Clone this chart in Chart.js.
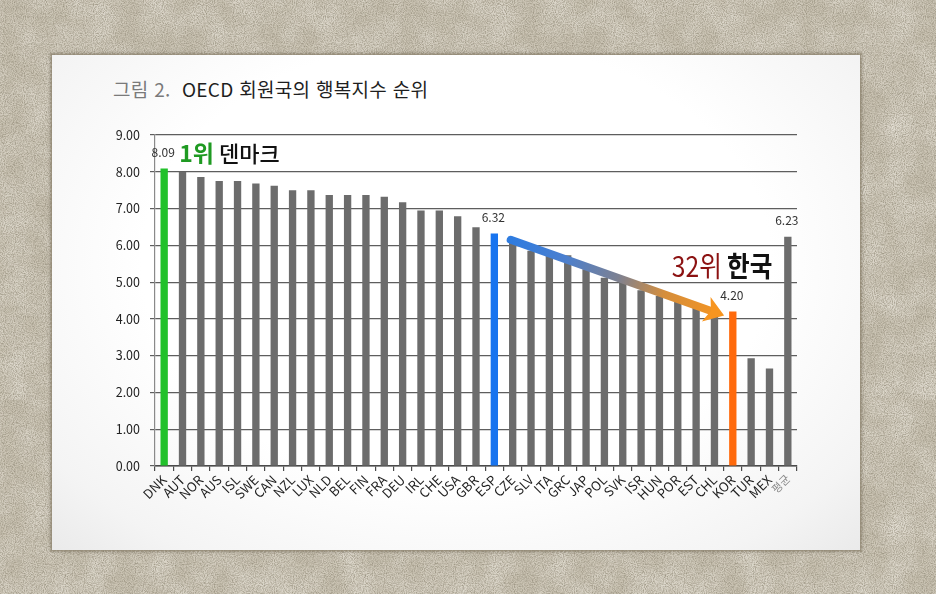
<!DOCTYPE html>
<html lang="ko">
<head>
<meta charset="utf-8">
<title>OECD 회원국의 행복지수 순위</title>
<script src="https://cdn.jsdelivr.net/npm/chart.js@4.4.1/dist/chart.umd.min.js"></script>
<style>
  html, body { margin: 0; padding: 0; width: 936px; height: 594px; overflow: hidden; }
  body {
    position: relative;
    background-color: #cbc4b4;
  }
  /* paper-like backdrop built from SVG noise */
  #paper {
    position: absolute; inset: 0;
    background-color: #cac3b3;
    background-image:
      url("data:image/svg+xml;utf8,<svg xmlns='http://www.w3.org/2000/svg' width='300' height='300'><filter id='n'><feTurbulence type='fractalNoise' baseFrequency='0.9' numOctaves='3' seed='4'/><feColorMatrix values='0 0 0 0 0.3  0 0 0 0 0.27  0 0 0 0 0.2  0 0 0 1.6 -0.55'/></filter><rect width='300' height='300' filter='url(%23n)'/></svg>"),
      url("data:image/svg+xml;utf8,<svg xmlns='http://www.w3.org/2000/svg' width='400' height='400'><filter id='m'><feTurbulence type='fractalNoise' baseFrequency='0.035' numOctaves='2' seed='9'/><feColorMatrix values='0 0 0 0 1  0 0 0 0 0.98  0 0 0 0 0.94  0 0 0 0.7 -0.2'/></filter><rect width='400' height='400' filter='url(%23m)'/></svg>");
  }
  #card {
    position: absolute; left: 52px; top: 55px; width: 808px; height: 495px;
    background: radial-gradient(ellipse at 50% 42%, #ffffff 55%, #f4f4f4 85%, #eaeaea 100%);
    box-shadow: 0 0 0 1px rgba(150, 140, 120, 0.5), 0 0 3px 2px rgba(90, 80, 60, 0.35);
    outline: 2px dotted rgba(150, 140, 120, 0.55);
    outline-offset: 0px;
  }
  #title {
    position: absolute; left: 113px; top: 75px;
    font-family: "Noto Sans CJK KR", "Noto Sans", sans-serif;
    font-size: 19px; color: #1e1e1e; white-space: pre; letter-spacing: 0.3px;
  }
  #title .fig { color: #7a7a7a; }
  #chart { position: absolute; left: 0; top: 0; }
</style>
</head>
<body>
<div id="paper"></div>
<div id="card"></div>
<div id="title"><span class="fig">그림 2.</span>  OECD 회원국의 행복지수 순위</div>
<canvas id="chart" width="936" height="594"></canvas>
<script>
// OECD member countries, ordered by happiness rank; last entry is the average
const categories = ['DNK','AUT','NOR','AUS','ISL','SWE','CAN','NZL','LUX','NLD','BEL','FIN','FRA','DEU','IRL','CHE','USA','GBR','ESP','CZE','SLV','ITA','GRC','JAP','POL','SVK','ISR','HUN','POR','EST','CHL','KOR','TUR','MEX','평균'];
const happiness = [8.09, 8.00, 7.86, 7.75, 7.75, 7.68, 7.62, 7.50, 7.50, 7.37, 7.37, 7.37, 7.32, 7.17, 6.95, 6.95, 6.79, 6.49, 6.32, 6.15, 5.85, 5.72, 5.73, 5.35, 5.12, 5.00, 4.78, 4.62, 4.48, 4.30, 4.05, 4.20, 2.93, 2.65, 6.23];
const yTicks = [0, 1, 2, 3, 4, 5, 6, 7, 8, 9];

// highlighted bars and the bars that carry a value label
const highlightColors = { DNK: '#22c12b', ESP: '#1874ef', KOR: '#ff6a0c' };
const labelledBars = ['DNK', 'ESP', 'KOR', '평균'];
const firstPlace = { country: 'DNK', rank: '1위', name: '덴마크' };
const korea = { country: 'KOR', rank: '32위', name: '한국' };
const trendFrom = 'CZE';

const FONT = '"Noto Sans CJK KR", "Noto Sans", sans-serif';
const barColors = categories.map(c => highlightColors[c] || '#6c6c6c');

const overlay = {
  id: 'overlay',
  afterDatasetsDraw(chart) {
    const { ctx, scales: { x, y } } = chart;
    const vals = chart.data.datasets[0].data;
    const px = c => x.getPixelForValue(categories.indexOf(c));
    const top = c => y.getPixelForValue(vals[categories.indexOf(c)]);

    ctx.save();

    // trend arrow from the first bar after Spain down to Korea
    const x0 = px(trendFrom) - 2, y0 = top(trendFrom);
    const x1 = (px(korea.country) + x.getPixelForValue(categories.indexOf(korea.country) - 1)) / 2 + 0.5;
    const y1 = top(korea.country) + 4;
    const ang = Math.atan2(y1 - y0, x1 - x0);
    const headLen = 19, headW = 13;
    const bx = x1 - Math.cos(ang) * headLen, by = y1 - Math.sin(ang) * headLen;
    const grad = ctx.createLinearGradient(x0, y0, x1, y1);
    grad.addColorStop(0, '#2f7ce0');
    grad.addColorStop(0.25, '#4a7fcf');
    grad.addColorStop(0.5, '#7c8193');
    grad.addColorStop(0.72, '#d58e3c');
    grad.addColorStop(1, '#f7951f');
    ctx.lineCap = 'round';
    ctx.strokeStyle = grad;
    ctx.lineWidth = 8;
    ctx.beginPath();
    ctx.moveTo(x0, y0);
    ctx.lineTo(bx + Math.cos(ang) * 3, by + Math.sin(ang) * 3);
    ctx.stroke();
    ctx.fillStyle = '#f7951f';
    ctx.beginPath();
    ctx.moveTo(x1, y1);
    ctx.lineTo(bx - Math.sin(ang) * headW, by + Math.cos(ang) * headW);
    ctx.lineTo(bx + Math.cos(ang) * 5, by + Math.sin(ang) * 5);
    ctx.lineTo(bx + Math.sin(ang) * headW, by - Math.cos(ang) * headW);
    ctx.closePath();
    ctx.fill();

    // value labels above selected bars
    ctx.font = '12px ' + FONT;
    ctx.fillStyle = '#333';
    ctx.textAlign = 'center';
    ctx.textBaseline = 'bottom';
    labelledBars.forEach(c => {
      const i = categories.indexOf(c);
      ctx.fillText(vals[i].toFixed(2), px(c) - 1, top(c) - 10);
    });

    // "1위 덴마크"
    ctx.textAlign = 'left';
    ctx.textBaseline = 'alphabetic';
    let tx = px(firstPlace.country) + 15, ty = top(firstPlace.country) - 6;
    ctx.font = 'bold 23px ' + FONT;
    ctx.fillStyle = '#1f9a22';
    ctx.fillText(firstPlace.rank, tx, ty);
    tx += ctx.measureText(firstPlace.rank).width + 5;
    ctx.font = '500 22px ' + FONT;
    ctx.fillStyle = '#111';
    ctx.fillText(firstPlace.name, tx, ty);

    // "32위 한국"
    tx = px(korea.country) - 61;
    ty = top(korea.country) - 35;
    ctx.font = '28px ' + FONT;
    ctx.fillStyle = '#8c1212';
    ctx.save();
    ctx.translate(tx, ty);
    ctx.scale(0.88, 1);
    ctx.fillText(korea.rank, 0, 0);
    const w = ctx.measureText(korea.rank).width;
    ctx.font = 'bold 28px ' + FONT;
    ctx.fillStyle = '#111';
    ctx.fillText(korea.name, w + 6, 0);
    ctx.restore();

    ctx.restore();
  }
};

new Chart(document.getElementById('chart'), {
  type: 'bar',
  data: {
    labels: categories,
    datasets: [{
      data: happiness,
      backgroundColor: barColors,
      borderWidth: 0,
      barPercentage: 0.4,
      categoryPercentage: 1.0
    }]
  },
  options: {
    responsive: false,
    animation: false,
    layout: { padding: { left: 95, right: 139, top: 135, bottom: 0 } },
    plugins: { legend: { display: false }, tooltip: { enabled: false } },
    scales: {
      x: {
        afterFit: s => { s.height = 128; },
        grid: { drawOnChartArea: false, drawTicks: true, tickLength: 5, color: '#4a4a4a', lineWidth: 1.2, offset: true },
        border: { display: true, color: '#4a4a4a', width: 1.5 },
        ticks: {
          autoSkip: false, minRotation: 45, maxRotation: 45, padding: 1,
          color: c => categories[c.index] === '평균' ? '#8a8a8a' : '#1e1e1e',
          font: c => ({ family: FONT, size: categories[c.index] === '평균' ? 11 : 13 })
        }
      },
      y: {
        min: 0, max: 9,
        afterFit: s => { s.width = 60; },
        afterBuildTicks: s => { s.ticks = yTicks.map(v => ({ value: v })); },
        grid: { color: '#5e5e5e', lineWidth: 1.2, tickLength: 5, drawTicks: true },
        border: { display: true, color: '#8a8a8a', width: 1.2 },
        ticks: {
          padding: 10, color: '#222',
          font: { family: FONT, size: 12.5 },
          callback: v => Number(v).toFixed(2)
        }
      }
    }
  },
  plugins: [overlay]
});
</script>
</body>
</html>
